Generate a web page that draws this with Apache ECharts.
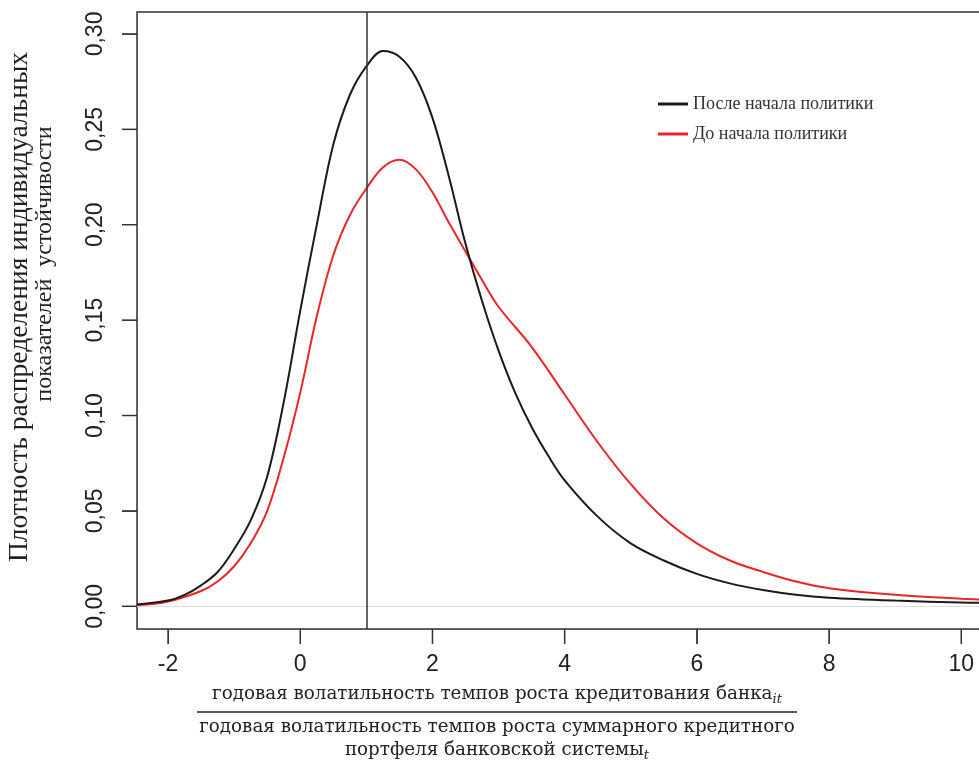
<!DOCTYPE html>
<html>
<head>
<meta charset="utf-8">
<script src="https://cdn.jsdelivr.net/npm/echarts@6/dist/echarts.min.js"></script>
<style>
html, body { margin: 0; background: #fff; }
#chart { width: 979px; height: 760px; }
</style>
</head>
<body>
<div id="chart"></div>
<script>
// названия рядов
var seriesNames = ['После начала политики', 'До начала политики'];

// после начала политики (чёрная кривая)
var afterX = [-2.47, -2, -1.75, -1.5, -1.25, -1, -0.75, -0.5, -0.25, 0, 0.25, 0.5, 0.75, 1, 1.25, 1.5, 1.75, 2, 2.25, 2.5, 2.75, 3, 3.25, 3.5, 3.75, 4, 4.5, 5, 5.5, 6, 6.5, 7, 7.5, 8, 9, 10, 10.45];
var afterY = [0.001, 0.003, 0.006, 0.011, 0.018, 0.03, 0.045, 0.068, 0.107, 0.155, 0.2, 0.242, 0.268, 0.283, 0.291, 0.288, 0.277, 0.256, 0.225, 0.19, 0.16, 0.134, 0.112, 0.094, 0.079, 0.066, 0.047, 0.033, 0.024, 0.017, 0.012, 0.0085, 0.006, 0.0045, 0.003, 0.002, 0.0018];

// до начала политики (красная кривая)
var beforeX = [-2.47, -2, -1.5, -1.25, -1, -0.75, -0.5, -0.25, 0, 0.25, 0.5, 0.75, 1, 1.25, 1.5, 1.75, 2, 2.25, 2.5, 2.75, 3, 3.5, 4, 4.5, 5, 5.5, 6, 6.5, 7, 7.5, 8, 9, 10, 10.45];
var beforeY = [0.0005, 0.0025, 0.008, 0.013, 0.021, 0.033, 0.05, 0.078, 0.112, 0.152, 0.184, 0.205, 0.219, 0.23, 0.234, 0.229, 0.217, 0.201, 0.186, 0.171, 0.157, 0.136, 0.111, 0.086, 0.064, 0.046, 0.033, 0.024, 0.018, 0.013, 0.0095, 0.006, 0.004, 0.0033];

// деления осей
var xTicks = [-2, 0, 2, 4, 6, 8, 10];
var yTicks = [0, 0.05, 0.1, 0.15, 0.2, 0.25, 0.3];
var xRange = [-2.47, 10.45];
var yRange = [-0.0119, 0.3115];
var policyStart = 1;

function zip(xs, ys) {
    return xs.map(function (x, i) { return [x, ys[i]]; });
}

/* подпись оси X с индексами */
var ctx = document.createElement('canvas').getContext('2d');
var titleFont = 'DejaVu Serif';
var titleSize = 18.3;
var subSize = 13;
function textW(s, size, style) {
    ctx.font = (style || '') + ' ' + size + 'px "' + titleFont + '"';
    return ctx.measureText(s).width;
}
function lineWithSub(main, sub, cx, cy) {
    var mw = textW(main, titleSize);
    var sw = textW(sub, subSize, 'italic');
    var left = cx - (mw + sw) / 2;
    return [
        {type: 'text', x: left, y: cy, style: {text: main, fontFamily: titleFont, fontSize: titleSize, fill: '#222', align: 'left', verticalAlign: 'middle'}},
        {type: 'text', x: left + mw, y: cy + 6, style: {text: sub, fontFamily: titleFont, fontSize: subSize, fontStyle: 'italic', fill: '#222', align: 'left', verticalAlign: 'middle'}}
    ];
}
var titleCx = 497;
var graphics = [].concat(
    lineWithSub('годовая волатильность темпов роста кредитования банка', 'it', titleCx, 694),
    [
        {type: 'line', shape: {x1: 197, y1: 712, x2: 797, y2: 712}, style: {stroke: '#222', lineWidth: 1.5}},
        {type: 'text', x: titleCx, y: 727, style: {text: 'годовая волатильность темпов роста суммарного кредитного', fontFamily: titleFont, fontSize: titleSize, fill: '#222', align: 'center', verticalAlign: 'middle'}}
    ],
    lineWithSub('портфеля банковской системы', 't', titleCx, 750),
    [
        {type: 'text', x: 20, y: 307, rotation: Math.PI / 2, style: {text: 'Плотность распределения индивидуальных', fontFamily: 'Liberation Serif', fontSize: 27.5, fill: '#222', align: 'center', verticalAlign: 'middle'}},
        {type: 'text', x: 45, y: 264, rotation: Math.PI / 2, style: {text: 'показателей  устойчивости', fontFamily: 'Liberation Serif', fontSize: 24, fill: '#222', align: 'center', verticalAlign: 'middle'}}
    ]
);

var gridLeftPx = 137, gridTopPx = 12, gridWidthPx = 854, gridBottomGap = 131;

var chart = echarts.init(document.getElementById('chart'));
chart.setOption({
    animation: false,
    grid: {
        left: gridLeftPx,
        top: gridTopPx,
        width: gridWidthPx,
        bottom: gridBottomGap,
        outerBoundsMode: 'none',
        show: true,
        borderColor: '#333',
        borderWidth: 1.5
    },
    legend: {
        orient: 'vertical',
        left: 653,
        top: 90,
        itemWidth: 30,
        itemHeight: 3,
        itemGap: 12,
        icon: 'rect',
        data: seriesNames,
        textStyle: {fontFamily: 'Liberation Serif', fontSize: 18, color: '#333'}
    },
    xAxis: {
        type: 'value',
        min: xRange[0],
        max: xRange[1],
        splitLine: {show: false},
        axisLine: {show: true, onZero: false},
        axisTick: {show: true, length: 15, customValues: xTicks},
        axisLabel: {
            customValues: xTicks,
            margin: 24,
            fontFamily: 'Liberation Sans',
            fontSize: 23,
            color: '#222'
        }
    },
    yAxis: {
        type: 'value',
        min: yRange[0],
        max: yRange[1],
        splitLine: {show: false},
        axisLine: {show: true, onZero: false},
        axisTick: {show: true, length: 15, customValues: yTicks},
        axisLabel: {
            customValues: yTicks,
            rotate: 90,
            margin: 30,
            fontFamily: 'Liberation Sans',
            fontSize: 23,
            color: '#222',
            formatter: function (v) { return v.toFixed(2).replace('.', ','); }
        }
    },
    series: [
        {
            name: seriesNames[0],
            type: 'line',
            data: zip(afterX, afterY),
            smooth: 0.35,
            showSymbol: false,
            color: '#1a1a1a',
            lineStyle: {width: 2, color: '#1a1a1a'},
            z: 3,
            markLine: {
                silent: true,
                symbol: 'none',
                label: {show: false},
                data: [
                    {yAxis: 0, lineStyle: {color: '#dcdcdc', width: 1, type: 'solid'}},
                    {xAxis: policyStart, lineStyle: {color: '#333', width: 1.5, type: 'solid'}}
                ]
            }
        },
        {
            name: seriesNames[1],
            type: 'line',
            data: zip(beforeX, beforeY),
            smooth: 0.35,
            showSymbol: false,
            color: '#e8262a',
            lineStyle: {width: 2, color: '#e8262a'},
            z: 2
        }
    ]
});

/* засечки осей: узкие прямоугольники на отдельном слое, по координатам сетки */
var tickLen = 15;
function toPx(x, y) {
    var p = null;
    try { p = chart.convertToPixel({gridIndex: 0}, [x, y]); } catch (e) { p = null; }
    if (!p || !isFinite(p[0]) || !isFinite(p[1])) {
        var h = 760 - gridTopPx - gridBottomGap;
        p = [
            gridLeftPx + (x - xRange[0]) / (xRange[1] - xRange[0]) * gridWidthPx,
            gridTopPx + h - (y - yRange[0]) / (yRange[1] - yRange[0]) * h
        ];
    }
    return p;
}
xTicks.forEach(function (v) {
    var p = toPx(v, yRange[0]);
    graphics.push({type: 'rect', zlevel: 1, z: 100, shape: {x: p[0] - 0.75, y: p[1], width: 1.5, height: tickLen}, style: {fill: '#333'}});
});
yTicks.forEach(function (v) {
    var p = toPx(xRange[0], v);
    graphics.push({type: 'rect', zlevel: 1, z: 100, shape: {x: p[0] - tickLen, y: p[1] - 0.75, width: tickLen, height: 1.5}, style: {fill: '#333'}});
});
chart.setOption({graphic: graphics});

window.addEventListener('resize', function () {
    chart.resize();
});
</script>
</body>
</html>
